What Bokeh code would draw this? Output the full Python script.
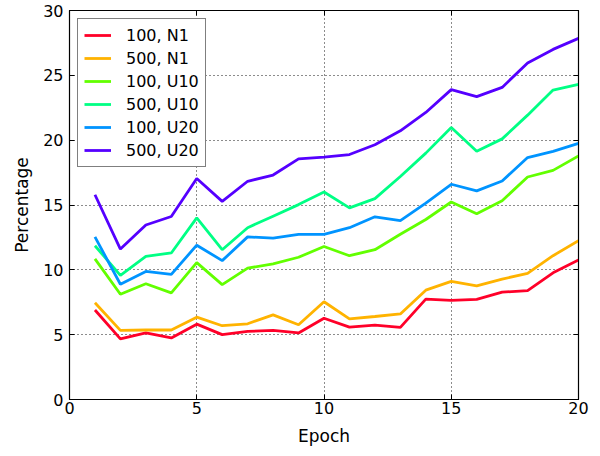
from bokeh.plotting import figure
from bokeh.models import (LinearAxis, Range1d, FixedTicker, Legend, LegendItem,
                          CustomJSTickFormatter)
from bokeh.embed import file_html
from bokeh.resources import INLINE

epochs = list(range(1, 21))
s100_n1 = [6.9, 4.67, 5.13, 4.75, 5.81, 5.0, 5.25, 5.33, 5.13, 6.27,
           5.58, 5.74, 5.56, 7.74, 7.64, 7.72, 8.28, 8.4, 9.77, 10.76]
s500_n1 = [7.46, 5.33, 5.36, 5.36, 6.35, 5.69, 5.84, 6.53, 5.76, 7.54,
           6.22, 6.4, 6.6, 8.43, 9.11, 8.76, 9.29, 9.72, 11.09, 12.24]
s100_u10 = [10.84, 8.12, 8.93, 8.22, 10.56, 8.86, 10.13, 10.46, 10.97, 11.8,
            11.09, 11.55, 12.74, 13.88, 15.23, 14.32, 15.33, 17.16, 17.67, 18.79]
s500_u10 = [11.86, 9.57, 11.04, 11.3, 14.01, 11.55, 13.25, 14.14, 15.03, 16.0,
            14.78, 15.49, 17.2, 19.0, 20.97, 19.14, 20.1, 21.93, 23.86, 24.3]
s100_u20 = [12.54, 8.89, 9.88, 9.65, 11.9, 10.71, 12.54, 12.44, 12.74, 12.74,
            13.25, 14.09, 13.79, 15.15, 16.6, 16.09, 16.85, 18.66, 19.14, 19.75]
s500_u20 = [15.79, 11.6, 13.46, 14.11, 17.04, 15.28, 16.83, 17.31, 18.56, 18.7,
            18.89, 19.65, 20.72, 22.14, 23.9, 23.36, 24.07, 25.95, 27.0, 27.85]

labels = ["100, N1", "500, N1", "100, U10", "500, U10", "100, U20", "500, U20"]
series = [s100_n1, s500_n1, s100_u10, s500_u10, s100_u20, s500_u20]
colors = ["#ff0029", "#ffb300", "#62ff00", "#00ff84", "#0094ff", "#5500ff"]

x_ticks = [0, 5, 10, 15, 20]
y_ticks = [0, 5, 10, 15, 20, 25, 30]

FONT = "DejaVu Sans"

p = figure(width=592, height=448, output_backend="svg", toolbar_location=None,
           x_range=Range1d(0, 20), y_range=Range1d(0, 30),
           min_border_left=69, min_border_right=14, min_border_top=10,
           min_border_bottom=45)
p.outline_line_color = "black"
p.outline_line_width = 1.2

items = []
for lab, ys, c in zip(labels, series, colors):
    r = p.line(epochs, ys, line_color=c, line_width=2.8)
    items.append(LegendItem(label=lab, renderers=[r]))

for ax in [p.xaxis[0], p.yaxis[0]]:
    ax.major_tick_in = 5
    ax.major_tick_out = 0
    ax.minor_tick_line_color = None
    ax.major_label_text_font = FONT
    ax.major_label_text_font_size = "16px"
    ax.major_label_text_color = "black"
    ax.axis_label_text_font = FONT
    ax.axis_label_text_font_size = "17px"
    ax.axis_label_text_font_style = "normal"
    ax.axis_label_text_color = "black"
    ax.axis_line_color = "black"
    ax.major_tick_line_color = "black"

p.xaxis.ticker = FixedTicker(ticks=x_ticks)
p.yaxis.ticker = FixedTicker(ticks=y_ticks)
p.xaxis.axis_label = "Epoch"
p.yaxis.axis_label = "Percentage"
p.xaxis.major_label_standoff = 2
p.yaxis.major_label_standoff = 6
p.xaxis.axis_label_standoff = 9
p.yaxis.axis_label_standoff = 8

for side in ["right", "above"]:
    ax = LinearAxis(ticker=FixedTicker(ticks=y_ticks if side == "right" else x_ticks),
                    formatter=CustomJSTickFormatter(code="return ''"),
                    major_label_standoff=0, major_tick_in=5,
                    major_tick_out=0, minor_tick_line_color=None,
                    axis_line_color="black", major_tick_line_color="black")
    p.add_layout(ax, side)

for g in [p.xgrid[0], p.ygrid[0]]:
    g.grid_line_color = "black"
    g.grid_line_dash = "1 3"
    g.grid_line_width = 1
    g.grid_line_alpha = 0.9
p.xgrid.ticker = FixedTicker(ticks=x_ticks)
p.ygrid.ticker = FixedTicker(ticks=y_ticks)

legend = Legend(items=items, location="top_left")
legend.label_text_font = FONT
legend.label_text_font_size = "16px"
legend.label_text_color = "black"
legend.border_line_color = "black"
legend.border_line_width = 1
legend.background_fill_alpha = 1
legend.glyph_width = 27
legend.glyph_height = 20
legend.label_standoff = 15
legend.spacing = 3
legend.padding = 6
legend.margin = 8
legend.label_height = 20
p.add_layout(legend)

open("out.html", "w").write(file_html(p, INLINE))
